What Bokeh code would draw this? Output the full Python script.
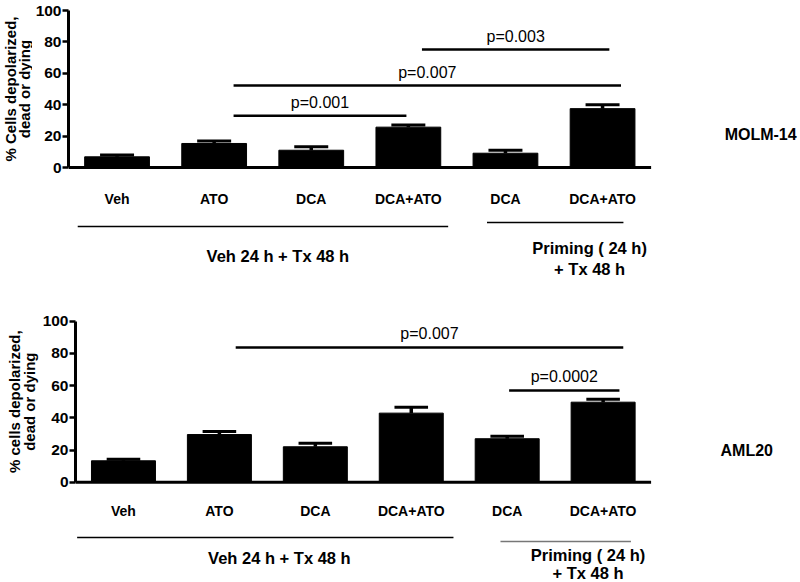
import numpy as np
from bokeh.plotting import figure
from bokeh.models import Range1d, FixedTicker
from bokeh.layouts import column, row
from bokeh.embed import file_html
from bokeh.resources import INLINE
from bokeh.core.properties import value

# ---------------- data ----------------
categories = ["Veh", "ATO", "DCA", "DCA+ATO", "DCA", "DCA+ATO"]
y_ticks = [0, 20, 40, 60, 80, 100]

molm_mean = [6.8, 15.3, 11.0, 25.7, 9.1, 37.5]
molm_err = [1.2, 1.5, 2.2, 1.4, 1.9, 2.5]
aml_mean = [13.3, 29.6, 22.0, 42.9, 27.0, 49.7]
aml_err = [1.0, 1.9, 2.2, 3.7, 1.6, 1.8]

molm_sig_x0 = [1.20, 1.20, 3.14]
molm_sig_x1 = [2.98, 5.19, 5.07]
molm_sig_y = [32.9, 52.2, 75.2]
molm_sig_label = ["p=0.001", "p=0.007", "p=0.003"]

aml_sig_x0 = [1.17, 4.02]
aml_sig_x1 = [5.21, 5.17]
aml_sig_y = [83.7, 57.0]
aml_sig_label = ["p=0.007", "p=0.0002"]

group_main = "Veh 24 h + Tx 48 h"
group_prime = ["Priming ( 24 h)", "+ Tx 48 h"]

molm_ylabel = ["% Cells depolarized,", "dead or dying"]
aml_ylabel = ["% cells depolarized,", "dead or dying"]

FONT = "Liberation Sans"
TOTAL_W = 798


def make_panel(mean, err, sig_x0, sig_x1, sig_y, sig_label, cell_line,
               ylabel, H, label_w, left, unit_px, top_px, base_px,
               off_cat, off_ul_l, off_ul_r, off_main, off_p1, off_p2,
               ul_l, ul_r, ul_r_color, main_x, prime_x, cell_xy,
               sig_text_dy, ylab_cx):
    W = TOTAL_W - label_w
    inner_left = left - label_w
    scale = (base_px - top_px) / 100.0
    y_end = 100 + top_px / scale
    y_start = -(H - base_px) / scale
    x_end = -0.5 + (W - inner_left) / unit_px
    yr = Range1d(y_start, y_end)
    p = figure(width=W, height=H, x_range=Range1d(-0.5, x_end),
               y_range=yr, output_backend="svg",
               toolbar_location=None, x_axis_location=None,
               min_border_left=inner_left, min_border_right=0,
               min_border_top=0, min_border_bottom=0)
    p.grid.visible = False
    p.outline_line_color = None
    p.background_fill_color = "white"
    p.border_fill_color = "white"

    ax = p.yaxis[0]
    ax.ticker = FixedTicker(ticks=y_ticks)
    ax.bounds = (0, 100)
    ax.axis_line_width = 3
    ax.major_tick_line_width = 2.5
    ax.major_tick_in = 0
    ax.major_tick_out = 6
    ax.minor_tick_line_color = None
    ax.major_label_standoff = 1
    ax.major_label_text_font = FONT
    ax.major_label_text_font_style = "bold"
    ax.major_label_text_font_size = "15.5px"
    ax.major_label_text_color = "black"

    n = len(categories)
    idx = np.arange(n, dtype=float)
    mean = np.array(mean)
    err = np.array(err)
    tops = mean + err

    # error bars (stem + cap), then bars
    p.segment(x0=idx, y0=mean, x1=idx, y1=tops, line_width=3.5, color="black")
    p.segment(x0=idx - 0.175, y0=tops, x1=idx + 0.175, y1=tops,
              line_width=3, color="black")
    p.vbar(x=idx, top=mean, bottom=0, width=0.667, fill_color="black",
           line_color="black")
    # baseline
    p.segment(x0=[-0.5], y0=[0], x1=[n - 0.5], y1=[0], line_width=3,
              color="black")

    # significance bars
    p.segment(x0=sig_x0, y0=sig_y, x1=sig_x1, y1=sig_y, line_width=2.5,
              color="black")
    p.text(x=[(a + b) / 2 for a, b in zip(sig_x0, sig_x1)],
           y=[v + sig_text_dy / scale for v in sig_y], text=sig_label,
           text_font=value(FONT), text_font_size="16px",
           text_align="center", text_baseline="middle", text_color="black")

    # category labels
    p.text(x=idx, y=[-off_cat / scale] * n, text=categories,
           text_font=value(FONT), text_font_style="bold",
           text_font_size="14px", text_align="center",
           text_baseline="middle", text_color="black")
    # group underlines
    p.segment(x0=[ul_l[0]], x1=[ul_l[1]], y0=[-off_ul_l / scale],
              y1=[-off_ul_l / scale], line_width=1.5, color="black")
    p.segment(x0=[ul_r[0]], x1=[ul_r[1]], y0=[-off_ul_r / scale],
              y1=[-off_ul_r / scale], line_width=1.5, color=ul_r_color)
    p.text(x=[main_x, prime_x, prime_x],
           y=[-off_main / scale, -off_p1 / scale, -off_p2 / scale],
           text=[group_main] + group_prime,
           text_font=value(FONT), text_font_style="bold",
           text_font_size="16.5px", text_align="center",
           text_baseline="middle", text_color="black")
    # cell line label
    p.text(x=[cell_xy[0]], y=[cell_xy[1]], text=[cell_line],
           text_font=value(FONT), text_font_style="bold",
           text_font_size="16px", text_align="center",
           text_baseline="middle", text_color="black")

    # narrow strip holding the two-line y-axis title
    lf = figure(width=label_w, height=H, x_range=Range1d(0, label_w),
                y_range=yr, output_backend="svg", toolbar_location=None,
                x_axis_location=None, y_axis_location=None,
                min_border_left=0, min_border_right=0,
                min_border_top=0, min_border_bottom=0)
    lf.grid.visible = False
    lf.outline_line_color = None
    lf.border_fill_color = "white"
    lf.text(x=list(ylab_cx), y=[50, 50], text=ylabel, angle=np.pi / 2,
            text_font=value(FONT), text_font_style="bold",
            text_font_size="15px", text_align="center",
            text_baseline="middle", text_color="black")
    return row(lf, p)


r1 = make_panel(molm_mean, molm_err, molm_sig_x0, molm_sig_x1, molm_sig_y,
                molm_sig_label, "MOLM-14", molm_ylabel,
                H=300, label_w=32, left=65, unit_px=97.5, top_px=10,
                base_px=167,
                off_cat=31, off_ul_l=59, off_ul_r=55, off_main=88,
                off_p1=80, off_p2=101,
                ul_l=(-0.405, 3.41), ul_r=(3.81, 5.215), ul_r_color="black",
                main_x=1.656, prime_x=4.867, cell_xy=(6.628, 21.1),
                sig_text_dy=13, ylab_cx=(9.5, 23.5))

r2 = make_panel(aml_mean, aml_err, aml_sig_x0, aml_sig_x1, aml_sig_y,
                aml_sig_label, "AML20", aml_ylabel,
                H=280, label_w=39, left=72, unit_px=96.33, top_px=20.7,
                base_px=181.7,
                off_cat=28.3, off_ul_l=55.3, off_ul_r=59.3, off_main=75.3,
                off_p1=72.3, off_p2=90.3,
                ul_l=(-0.483, 3.44), ul_r=(3.93, 5.29), ul_r_color="#777777",
                main_x=1.625, prime_x=4.843, cell_xy=(6.497, 19.7),
                sig_text_dy=14, ylab_cx=(14, 28.5))

layout = column(r1, r2)
open("out.html", "w").write(file_html(layout, INLINE))
